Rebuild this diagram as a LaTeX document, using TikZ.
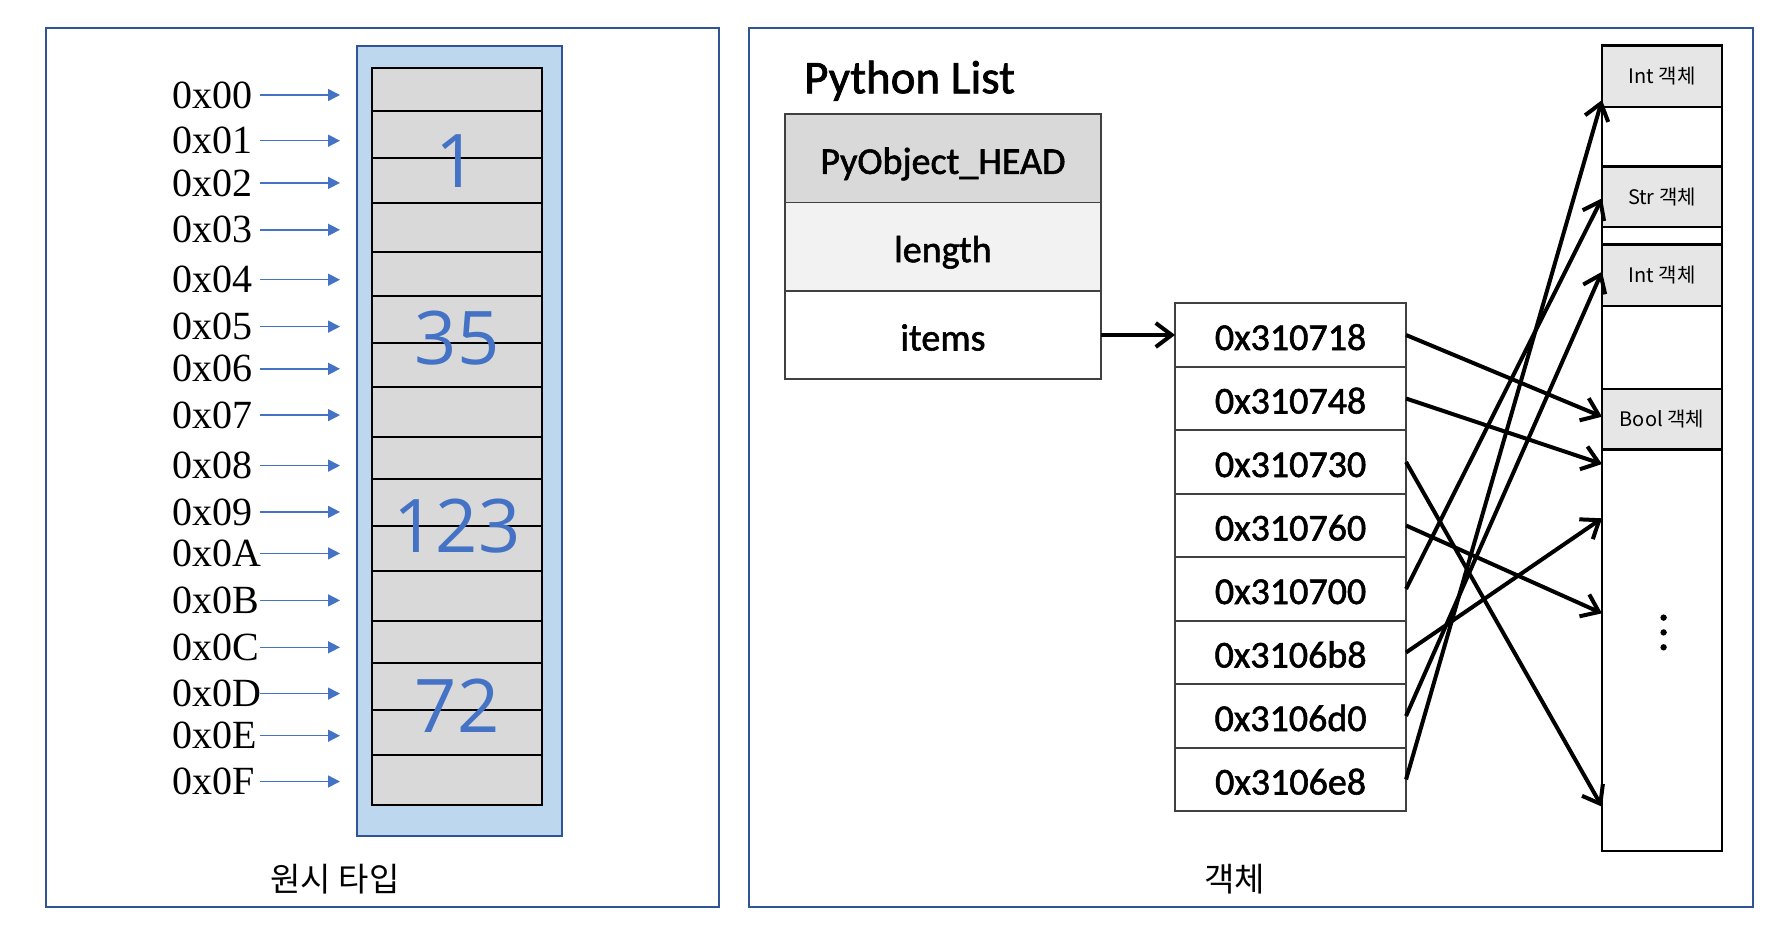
\documentclass[tikz,border=0pt]{standalone}
\usepackage{fontspec}
\newfontfamily\calib[FakeBold=1.5]{Carlito}
\newfontfamily\serifa{Liberation Serif}
\newfontfamily\krfont{Noto Sans CJK KR}
\newfontfamily\numfont{Open Sans}
\usetikzlibrary{positioning,arrows.meta}

\definecolor{marco}{HTML}{2F5597}
\definecolor{azul}{HTML}{4472C4}
\definecolor{celeste}{HTML}{BDD7EE}
\definecolor{celda}{HTML}{D9D9D9}
\definecolor{objgris}{HTML}{E7E6E6}
\definecolor{claro}{HTML}{F2F2F2}
\definecolor{borde}{HTML}{404040}

\tikzset{
  panel/.style={draw=marco, line width=2pt},
  flechadir/.style={-{Triangle[length=12pt,width=12pt]}, azul, line width=1.5pt},
  puntero/.style={-{Straight Barb[length=16pt,width=24pt]}, line width=4pt},
  etiq/.style={anchor=west, inner sep=0pt, text width=87.5pt, align=left, font=\serifa\fontsize{40}{48}\selectfont},
  numero/.style={azul, inner sep=0pt, font=\numfont\fontsize{74}{80}\selectfont},
  fila/.style={draw=borde, line width=1.8pt, outer sep=0pt, inner sep=0pt, minimum width=315.7pt, minimum height=88.3pt,
    text height=31pt, text depth=0pt, font=\calib\fontsize{38}{44}\selectfont},
  dirfila/.style={fila, minimum width=231pt, minimum height=63.5pt, text height=30pt},
  obj/.style={draw=black, line width=2.5pt, outer sep=0pt, inner sep=0pt, minimum width=120pt, font=\krfont\fontsize{20}{24}\selectfont},
  pie/.style={font=\krfont\fontsize{33}{40}\selectfont}
}

\begin{document}
\begin{tikzpicture}[x=1pt, y={(0,-1pt)}]

    \useasboundingbox (0,0) rectangle (1778,930);

    % Marcos
    \draw[panel] (45.9,27.9) rectangle (718.7,907.4);
    \draw[panel] (749,27.9) rectangle (1752.5,907.4);

    % Memoria
    \filldraw[fill=celeste, draw=marco, line width=2pt] (356.7,45.7) rectangle (561.9,836.1);
    \foreach \t/\b in {67.7/111.0, 111.0/158.0, 158.0/203.1, 203.1/252.4, 252.4/295.7,
      295.7/343.2, 343.2/387.2, 387.2/436.5, 436.5/479.2, 479.2/526.1, 526.1/571.3,
      571.3/620.5, 620.5/663.3, 663.3/710.2, 710.2/755.3, 755.3/804.6}
      \filldraw[fill=celda, line width=2pt] (372,\t) rectangle (542,\b);

    % Valores
    \node[numero] (v1) at (457,161) {1};
    \node[numero] (v35) at (457,338) {35};
    \node[numero] (v123) at (457,526.5) {123};
    \node[numero] (v72) at (457,706) {72};

    % Direcciones
    \foreach \y/\h [count=\i from 0] in {95.0/00, 140.7/01, 182.9/02, 229.8/03, 279.7/04,
      326.6/05, 368.8/06, 415.1/07, 465.6/08, 511.9/09, 553.4/0A, 600.4/0B, 647.3/0C,
      693.6/0D, 735.7/0E, 781.5/0F} {
      \node[etiq] (l\i) at (172,\y) {0x\h};
      \coordinate (p\i) at (340,\y);
      \draw[flechadir] (l\i.east) -- (p\i);
    }

    \node[pie] (tipo) at (335,879) {원시 타입};

    % Python List
    \node[anchor=base west, inner sep=0pt, font=\calib\fontsize{47}{52}\selectfont] (titulo) at (804,93.3) {Python List};
    \node[fila, fill=celda] (head) at (942.9,158.4) {PyObject\_HEAD};
    \node[fila, fill=claro, below=0pt of head] (len) {length};
    \node[fila, fill=white, below=0pt of len] (items) {items};

    % Tabla de punteros
    \node[dirfila, right=74.3pt of items] (a1) {0x310718};
    \foreach \txt [count=\i from 2, remember=\i as \j (initially 1)] in
      {0x310748, 0x310730, 0x310760, 0x310700, 0x3106b8, 0x3106d0, 0x3106e8}
      \node[dirfila, below=0pt of a\j] (a\i) {\txt};

    \draw[puntero] (items.east) -- (a1.west);

    % Objetos
    \node[obj, fill=objgris, minimum height=61.2pt] (o1) at (1662,76.3) {Int 객체};
    \node[obj, fill=white, minimum height=59.4pt, below=0pt of o1] (o2) {};
    \node[obj, fill=objgris, minimum height=60.5pt, below=0pt of o2] (o3) {Str 객체};
    \node[obj, fill=white, minimum height=17.9pt, below=0pt of o3] (o4) {};
    \node[obj, fill=objgris, minimum height=61.1pt, below=0pt of o4] (o5) {Int 객체};
    \node[obj, fill=white, minimum height=83.2pt, below=0pt of o5] (o6) {};
    \node[obj, fill=objgris, minimum height=60.5pt, below=0pt of o6] (o7) {Bool 객체};
    \node[obj, fill=white, minimum height=401.5pt, below=0pt of o7] (o8) {};
    \foreach \d in {617.6, 632.4, 647.3}
      \fill (1663.6,\d) circle (3.2pt);

    % Flechas
    \foreach \s/\e in {1/416.7, 2/464, 3/806.7, 4/613.3, 5/198.3, 6/518.3, 7/271.7, 8/100} {
      \coordinate (e\s) at (1602,\e);
      \draw[puntero] (a\s.east) -- (e\s);
    }

    \node[pie] (objeto) at (1234.5,879) {객체};

\end{tikzpicture}
\end{document}
